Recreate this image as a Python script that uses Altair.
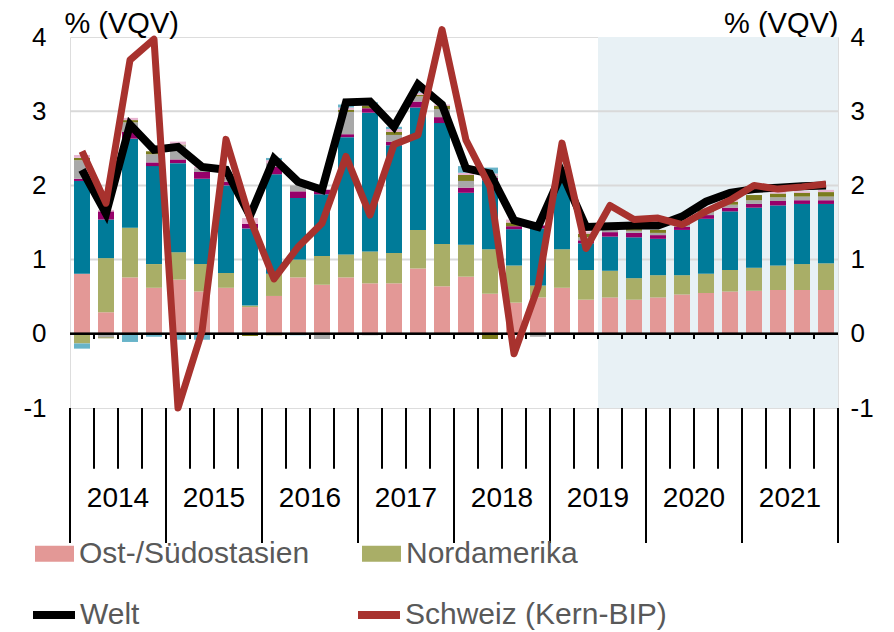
import altair as alt
import pandas as pd

FONT = "Liberation Sans"

# ---------------- data ----------------
years = [2014, 2015, 2016, 2017, 2018, 2019, 2020, 2021]
quarters = [f"{y}Q{q}" for y in years for q in (1, 2, 3, 4)]
forecast_start = "2019Q3"
unit_label = "% (VQV)"
y_ticks = [-1, 0, 1, 2, 3, 4]
grid_values = [1, 2, 3]

series_names = ["Ost-/Südostasien", "Nordamerika", "Euroraum", "Japan",
                "Übriges Europa", "Lateinamerika", "Übriges Asien", "Übrige"]
series_colors = ["#E39896", "#A9AE67", "#007B99", "#96006A",
                 "#A8A8A8", "#7B7C1E", "#E8B6D2", "#68B4C9"]

asia = [0.81, 0.29, 0.76, 0.62, 0.73, 0.57, 0.62, 0.36,
        0.51, 0.76, 0.66, 0.76, 0.68, 0.68, 0.88, 0.64,
        0.77, 0.54, 0.42, 0.49, 0.62, 0.46, 0.49, 0.46,
        0.49, 0.53, 0.55, 0.57, 0.58, 0.59, 0.59, 0.59]
namerica = [-0.13, 0.73, 0.67, 0.32, 0.37, 0.37, 0.20, 0.02,
            0.30, 0.24, 0.39, 0.31, 0.43, 0.41, 0.52, 0.57,
            0.43, 0.60, 0.50, 0.16, 0.52, 0.40, 0.36, 0.29,
            0.30, 0.26, 0.26, 0.29, 0.31, 0.33, 0.35, 0.36]
euroraum = [1.25, 0.52, 1.20, 1.32, 1.20, 1.15, 1.18, 1.04,
            1.34, 0.83, 0.83, 1.58, 1.87, 1.45, 1.65, 1.63,
            0.70, 0.93, 0.49, 0.77, 0.98, 0.36, 0.46, 0.55,
            0.49, 0.61, 0.74, 0.79, 0.81, 0.81, 0.81, 0.80]
japan = [0.03, 0.11, 0.09, 0.05, 0.05, 0.09, 0.05, 0.06,
         0.10, 0.09, 0.06, 0.04, 0.06, 0.05, 0.08, 0.08,
         0.07, 0.03, 0.04, 0.04, 0.04, 0.04, 0.06, 0.06,
         0.05, 0.04, 0.05, 0.05, 0.05, 0.06, 0.05, 0.05]
uebr_europa = [0.25, -0.05, 0.13, 0.11, 0.19, 0.05, 0.05, 0.00,
               0.05, 0.08, -0.07, 0.30, -0.02, 0.09, 0.07, 0.11,
               0.09, 0.03, 0.00, -0.04, 0.02, 0.04, 0.03, 0.03,
               0.03, 0.03, 0.04, 0.04, 0.05, 0.05, 0.05, 0.05]
latam = [0.03, -0.01, 0.03, 0.04, 0.01, 0.00, -0.01, -0.03,
         -0.02, 0.00, 0.00, 0.03, 0.03, 0.04, 0.02, 0.04,
         0.08, -0.07, 0.05, 0.00, 0.02, 0.05, 0.02, 0.02,
         0.04, 0.03, 0.04, 0.04, 0.07, 0.05, 0.05, 0.06]
uebr_asien = [0.04, 0.02, 0.03, 0.00, 0.04, 0.02, 0.00, 0.08,
              0.04, 0.00, 0.00, 0.03, 0.03, 0.04, 0.03, 0.02,
              0.03, 0.03, 0.04, 0.00, 0.00, 0.03, 0.00, 0.00,
              0.00, 0.00, 0.02, 0.02, 0.00, 0.02, 0.02, 0.03]
uebrige = [-0.07, 0.00, -0.11, -0.04, -0.08, -0.08, 0.00, 0.00,
           0.03, -0.02, 0.00, 0.04, 0.02, 0.03, 0.02, -0.01,
           0.09, 0.08, 0.00, 0.00, 0.00, 0.00, 0.00, 0.00,
           0.00, 0.00, 0.00, 0.00, 0.00, 0.00, 0.00, 0.00]

line_names = ["Welt", "Schweiz (Kern-BIP)"]
line_colors = ["#000000", "#A8322E"]
welt = [2.21, 1.62, 2.82, 2.48, 2.52, 2.25, 2.21, 1.59,
        2.36, 2.05, 1.94, 3.12, 3.13, 2.79, 3.36, 3.09,
        2.23, 2.16, 1.53, 1.44, 2.17, 1.44, 1.45, 1.46,
        1.46, 1.58, 1.78, 1.90, 1.95, 1.97, 1.99, 2.00]
schweiz = [2.46, 1.76, 3.69, 3.97, -1.00, 0.03, 2.62, 1.55,
           0.74, 1.17, 1.49, 2.39, 1.60, 2.55, 2.68, 4.10,
           2.61, 1.98, -0.27, 0.63, 2.57, 1.15, 1.73, 1.54,
           1.56, 1.47, 1.65, 1.80, 2.00, 1.95, 1.98, 2.02]

# ---------------- tables ----------------
n = len(quarters)
components = [asia, namerica, euroraum, japan, uebr_europa, latam, uebr_asien, uebrige]
rows = []
for k, (name, vals) in enumerate(zip(series_names, components)):
    for i, v in enumerate(vals):
        rows.append({"idx": i, "quarter": quarters[i], "series": name, "order": k, "value": v})
bars_df = pd.DataFrame(rows)

lrows = []
for name, vals in zip(line_names, [welt, schweiz]):
    for i, v in enumerate(vals):
        lrows.append({"idx": i, "quarter": quarters[i], "series": name, "value": v})
lines_df = pd.DataFrame(lrows)

q_bounds = pd.DataFrame({"b": list(range(n + 1))})
inner_bounds = pd.DataFrame({"b": list(range(1, n))})
y_bounds = pd.DataFrame({"b": list(range(0, n + 1, 4))})
year_df = pd.DataFrame({"year": [str(y) for y in years],
                        "first_idx": [quarters.index(f"{y}Q1") for y in years]})
shade_df = pd.DataFrame({"start": [quarters.index(forecast_start)], "end": [n]})
grid_df = pd.DataFrame({"g": grid_values})

# ---------------- scales / guides ----------------
xs = alt.Scale(domain=[0, n], nice=False, zero=False)
ys = alt.Scale(domain=[y_ticks[0], y_ticks[-1]], nice=False, zero=False)

common_y = dict(values=y_ticks, ticks=False, domain=False, grid=False,
                labelFontSize=26, labelColor="black", labelFont=FONT,
                labelExpr="'' + datum.value",
                title=unit_label, titleAngle=0, titleY=-5, titleBaseline="alphabetic",
                titleFontSize=29, titleFontWeight="normal", titleColor="black", titleFont=FONT)
left_axis = alt.Axis(orient="left", labelPadding=24, titleX=-6, titleAlign="left", **common_y)
right_axis = alt.Axis(orient="right", labelPadding=12, titleX=0, titleAlign="right", **common_y)

fill_legend = alt.Legend(
    values=series_names[:2], orient="none", legendX=-35, legendY=497,
    direction="horizontal", columns=2, columnPadding=52,
    symbolType="M-1,-0.41H1V0.41H-1Z", symbolSize=1521, symbolStrokeWidth=0,
    symbolOpacity=1, labelFontSize=30, labelColor="#595959", labelFont=FONT,
    labelOffset=5, labelLimit=500, title=None, padding=0,
)
stroke_legend = alt.Legend(
    orient="none", legendX=-41, legendY=553,
    direction="horizontal", columns=2, columnPadding=202,
    symbolType="stroke", symbolSize=1764, symbolStrokeWidth=8,
    labelFontSize=30, labelColor="#595959", labelFont=FONT,
    labelOffset=1, labelLimit=500, title=None, padding=0,
)

# ---------------- layers ----------------
shade = alt.Chart(shade_df).mark_rect(color="#E8F1F5").encode(
    x=alt.X("start:Q", scale=xs, axis=None), x2="end:Q",
    y=alt.YDatum(y_ticks[0], scale=ys, axis=None), y2=alt.Y2Datum(y_ticks[-1]),
)

grid = alt.Chart(grid_df).mark_rule(color="#D9D9D9", strokeWidth=2).encode(
    y=alt.Y("g:Q", scale=ys, axis=None),
)

bars = alt.Chart(bars_df).transform_stack(
    stack="value", groupby=["idx"], as_=["v0", "v1"], offset="zero",
    sort=[alt.SortField(field="order", order="ascending")],
).transform_calculate(
    xa="datum.idx + 0.1667", xb="datum.idx + 0.8333",
).mark_bar().encode(
    x=alt.X("xa:Q", scale=xs, axis=None), x2="xb:Q",
    y=alt.Y("v0:Q", scale=ys, axis=left_axis), y2="v1:Q",
    fill=alt.Fill("series:N", scale=alt.Scale(domain=series_names, range=series_colors),
                  legend=fill_legend),
)

zero_line = alt.Chart(grid_df).mark_rule(color="black", strokeWidth=2).encode(
    y=alt.YDatum(0, scale=ys, axis=right_axis),
)

zero_ticks = alt.Chart(inner_bounds).mark_rule(color="black", strokeWidth=2).encode(
    x=alt.X("b:Q", scale=xs, axis=None),
    y=alt.YDatum(0, scale=ys, axis=None), y2=alt.Y2Datum(-0.07),
)

q_ticks = alt.Chart(q_bounds).mark_rule(color="black", strokeWidth=2).encode(
    x=alt.X("b:Q", scale=xs, axis=None),
    y=alt.YDatum(y_ticks[0], scale=ys, axis=None), y2=alt.Y2Datum(y_ticks[0] - 0.82),
)

yr_ticks = alt.Chart(y_bounds).mark_rule(color="black", strokeWidth=2).encode(
    x=alt.X("b:Q", scale=xs, axis=None),
    y=alt.YDatum(y_ticks[0], scale=ys, axis=None), y2=alt.Y2Datum(y_ticks[0] - 1.82),
)

year_labels = alt.Chart(year_df).transform_calculate(
    xc="datum.first_idx + 2"
).mark_text(fontSize=28, font=FONT, color="black", baseline="middle", align="center").encode(
    x=alt.X("xc:Q", scale=xs, axis=None),
    y=alt.YDatum(y_ticks[0] - 1.22, scale=ys, axis=None),
    text="year:N",
)

line_scale = alt.Scale(domain=line_names, range=line_colors)


def line_layer(name, width, join):
    return alt.Chart(lines_df).transform_filter(
        alt.datum.series == name
    ).transform_calculate(xc="datum.idx + 0.5").mark_line(
        strokeWidth=width, strokeJoin=join
    ).encode(
        x=alt.X("xc:Q", scale=xs, axis=None),
        y=alt.Y("value:Q", scale=ys, axis=None),
        stroke=alt.Stroke("series:N", scale=line_scale, legend=stroke_legend),
    )


welt_layer = line_layer("Welt", 8, "miter")
schweiz_layer = line_layer("Schweiz (Kern-BIP)", 7, "round")

chart = alt.layer(
    shade, grid, bars, zero_line, zero_ticks, q_ticks, yr_ticks, year_labels,
    welt_layer, schweiz_layer
).resolve_scale(
    y="independent"
).properties(
    width=768, height=371,
    padding={"left": 62, "top": 29, "right": 48, "bottom": 222},
    autosize=alt.AutoSizeParams(type="none"),
    background="white",
).configure_view(
    stroke="black", strokeWidth=2.5
).configure(font=FONT)

chart.save("out.html", embed_options={"renderer": "svg", "actions": False})
